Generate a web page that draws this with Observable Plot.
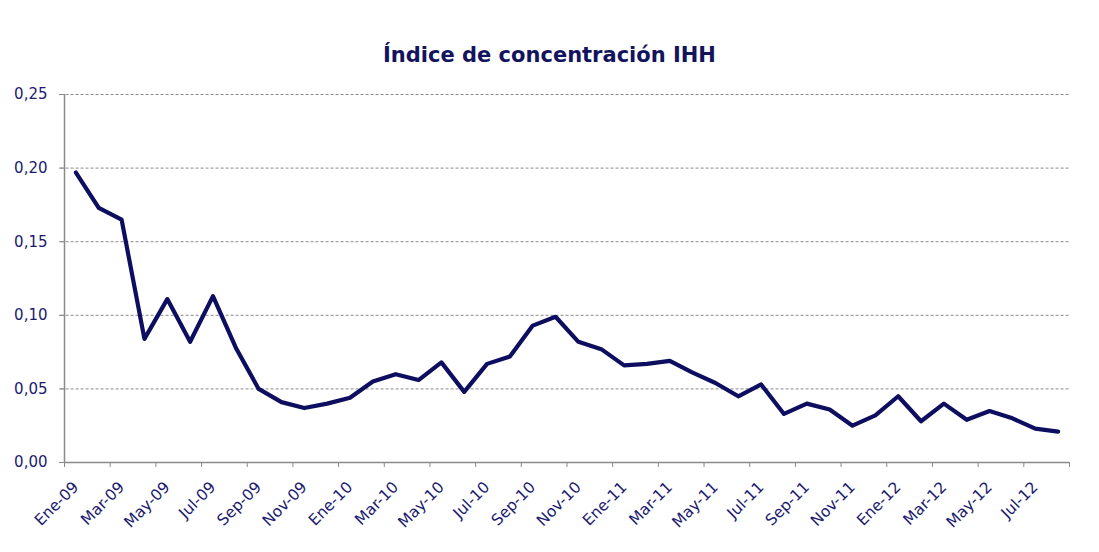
<!DOCTYPE html>
<html>
<head>
<meta charset="utf-8">
<script src="https://cdn.jsdelivr.net/npm/d3@7"></script>
<script src="https://cdn.jsdelivr.net/npm/@observablehq/plot@0.6"></script>
<style>
  body { margin: 0; background: #fff; }
  #title { height: 80px; box-sizing: border-box; padding-top: 45px; line-height: 21px;
    text-align: center; font-family: "DejaVu Sans", sans-serif; font-weight: bold;
    font-size: 21px; color: #13135e; width: 1099px; }
</style>
</head>
<body>
<div id="title">Índice de concentración IHH</div>
<div id="chart"></div>
<script>
const months = [
  "Ene-09","Feb-09","Mar-09","Abr-09","May-09","Jun-09","Jul-09","Ago-09","Sep-09","Oct-09","Nov-09","Dic-09",
  "Ene-10","Feb-10","Mar-10","Abr-10","May-10","Jun-10","Jul-10","Ago-10","Sep-10","Oct-10","Nov-10","Dic-10",
  "Ene-11","Feb-11","Mar-11","Abr-11","May-11","Jun-11","Jul-11","Ago-11","Sep-11","Oct-11","Nov-11","Dic-11",
  "Ene-12","Feb-12","Mar-12","Abr-12","May-12","Jun-12","Jul-12","Ago-12"
];
const ihh = [
  0.197,0.173,0.165,0.084,0.111,0.082,0.113,0.078,0.050,0.041,0.037,0.040,
  0.044,0.055,0.060,0.056,0.068,0.048,0.067,0.072,0.093,0.099,0.082,0.077,
  0.066,0.067,0.069,0.061,0.054,0.045,0.053,0.033,0.040,0.036,0.025,0.032,
  0.045,0.028,0.040,0.029,0.035,0.030,0.023,0.021
];
const yTicks = [0, 0.05, 0.10, 0.15, 0.20, 0.25];

const data = months.map((m, i) => ({i, m, v: ihh[i]}));
const n = months.length;
const tickPos = d3.range(0, n + 1, 2);
const labelPos = d3.range(0, n, 2).map(i => i + 0.5);

const chart = Plot.plot({
  width: 1099,
  height: 472,
  marginLeft: 64,
  marginRight: 30,
  marginTop: 14,
  marginBottom: 90,
  style: {fontFamily: "DejaVu Sans, sans-serif", fontSize: "15px", color: "#1b1b6e", background: "#fff"},
  x: {domain: [0, n], label: null},
  y: {domain: [0, 0.25], label: null},
  marks: [
    Plot.gridY(yTicks.slice(1), {stroke: "#8a8a8a", strokeOpacity: 1, strokeDasharray: "3,2", x1: -0.15, x2: n}),
    Plot.ruleX([0], {y1: 0, y2: 0.25, stroke: "#8a8a8a", strokeWidth: 1.5}),
    Plot.ruleY([0], {stroke: "#8a8a8a", strokeWidth: 1.5}),
    Plot.axisY(yTicks, {tickFormat: d => d.toFixed(2).replace(".", ","), tickSize: 5, tickPadding: 12, stroke: "#8a8a8a", fill: "#1b1b6e", label: null}),
    Plot.axisX(tickPos, {tickFormat: () => "", tickSize: 5, stroke: "#8a8a8a", label: null}),
    Plot.axisX(labelPos, {tickFormat: d => months[d - 0.5], tickSize: 0, tickPadding: 22, tickRotate: -45, fill: "#1b1b6e", fontSize: 15.5, label: null}),
    Plot.line(data, {x: d => d.i + 0.5, y: "v", stroke: "#0e0e60", strokeWidth: 4.2, strokeLinejoin: "round", strokeLinecap: "round"})
  ]
});
document.getElementById("chart").appendChild(chart);
</script>
</body>
</html>
